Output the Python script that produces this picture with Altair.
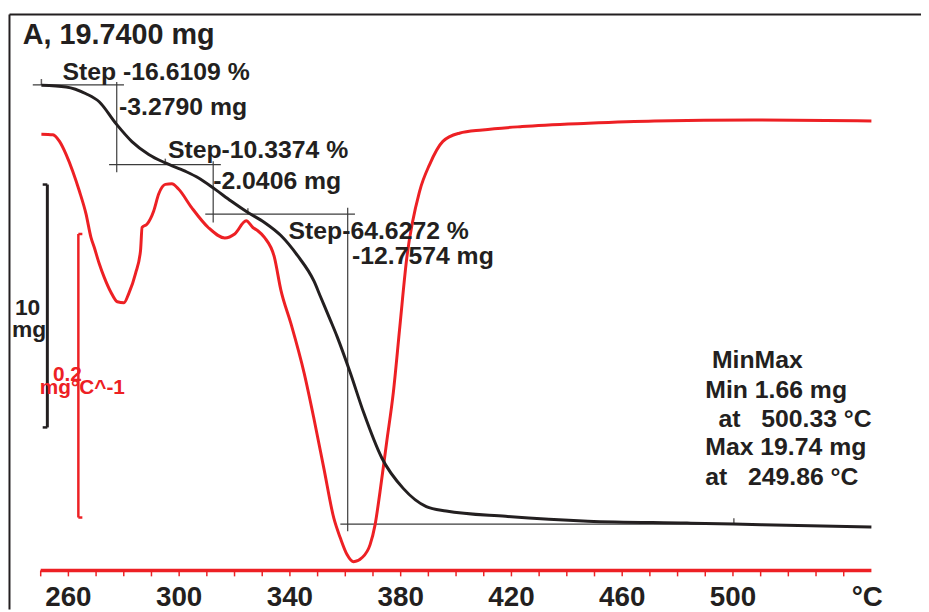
import altair as alt
import pandas as pd

# ---------------- data ----------------
tg_temp = [250.25, 259.20, 266.36, 271.12, 277.10, 282.94, 289.02, 295.00, 302.16, 306.88,
           312.90, 318.74, 324.82, 330.80, 336.74, 342.72, 348.70, 351.06, 354.64, 357.05,
           361.80, 366.60, 373.15, 380.92, 389.26, 396.42, 417.90, 447.61, 483.42, 500.25,
           519.22, 550.00]
tg_mass = [19.73, 19.66, 19.38, 19.05, 18.16, 17.41, 16.88, 16.53, 16.19, 15.92,
           15.45, 14.96, 14.49, 14.08, 13.54, 12.72, 11.66, 11.02, 10.05, 9.38,
           7.89, 6.26, 4.39, 3.13, 2.38, 2.20, 1.98, 1.78, 1.70, 1.66,
           1.61, 1.54]

dtg_temp = [250.25, 254.40, 256.80, 259.20, 261.56, 263.96, 266.36, 268.15, 269.33, 271.12,
            272.91, 275.31, 277.67, 280.07, 281.86, 284.26, 286.05, 286.62, 288.41, 290.81,
            292.60, 295.00, 297.36, 299.76, 304.52, 310.50, 316.48, 320.06, 324.21, 326.61,
            328.40, 330.80, 334.38, 336.74, 340.32, 345.12, 348.70, 352.28, 355.86, 358.22,
            360.62, 363.02, 366.00, 368.96, 370.75, 372.54, 374.94, 377.34, 379.70, 382.10,
            386.86, 390.44, 395.24, 401.18, 409.56, 423.88, 447.72, 471.60, 507.40, 550.00]
dtg_value = [-0.0120, -0.0124, -0.0171, -0.0264, -0.0381, -0.0521, -0.0682, -0.0848, -0.0918, -0.1032,
             -0.1128, -0.1233, -0.1302, -0.1309, -0.1241, -0.1101, -0.0941, -0.0778, -0.0754, -0.0661,
             -0.0542, -0.0474, -0.0470, -0.0507, -0.0638, -0.0778, -0.0852, -0.0824, -0.0731, -0.0778,
             -0.0801, -0.0848, -0.0987, -0.1220, -0.1453, -0.1804, -0.2129, -0.2479, -0.2829, -0.2969,
             -0.3085, -0.3136, -0.3108, -0.3015, -0.2876, -0.2642, -0.2292, -0.1943, -0.1477, -0.1010,
             -0.0521, -0.0334, -0.0171, -0.0113, -0.0090, -0.0066, -0.0043, -0.0027, -0.0020, -0.0027]

# step evaluation construction lines (temperature, mass)
hline_mass = [19.74, 16.46, 14.42, 1.66]
hline_t0 = [247.14, 274.70, 309.43, 358.22]
hline_t1 = [280.07, 315.05, 363.49, 500.00]
vline_temp = [277.46, 312.29, 360.87]
vline_m0 = [19.86, 16.60, 14.68]
vline_m1 = [16.15, 14.08, 1.36]
marker_temp = [250.25, 295.00, 324.82, 500.33]
marker_mass = [19.74, 16.46, 14.42, 1.66]

step_labels = ["Step -16.6109 %", "-3.2790 mg", "Step-10.3374 %", "-2.0406 mg",
               "Step-64.6272 %", "-12.7574 mg"]
step_label_t = [257.88, 278.28, 295.93, 312.29, 339.50, 362.41]
step_label_m = [19.93, 18.50, 16.73, 15.44, 13.40, 12.38]

NB = "\u00a0"
minmax_labels = ["MinMax", "Min 1.66 mg", "at" + NB * 3 + "500.33 °C", "Max 19.74 mg",
                 "at" + NB * 3 + "249.86 °C"]
minmax_t = [492.4, 490.0, 494.8, 490.0, 490.0]
minmax_m = [8.095, 6.87, 5.65, 4.49, 3.26]

title_text = "A, 19.7400 mg"
tick_temps = list(range(250, 550, 10))
label_temps = [260, 300, 340, 380, 420, 460, 500]
axis_start, axis_end = 250, 550

# scale bars
tg_bar_t, tg_bar_top, tg_bar_len = 252.40, 15.64, 10.0
dtg_bar_t, dtg_bar_top, dtg_bar_len = 263.60, -0.0824, 0.2

# ---------------- styling ----------------
RED = "#ed2024"
BLACK = "#231f20"
FONT = "Liberation Sans"
W, H = 921, 604
AXIS_Y = 564.7

xscale = alt.Scale(domain=[238.19, 567.91], nice=False, zero=False)
tgscale = alt.Scale(domain=[-1.852, 22.801], nice=False, zero=False)
dtgscale = alt.Scale(domain=[-0.34720, 0.07517], nice=False, zero=False)


def X(field):
    return alt.X(field, type="quantitative", scale=xscale, axis=None)


def YT(field):
    return alt.Y(field, type="quantitative", scale=tgscale, axis=None)


def YD(field):
    return alt.Y(field, type="quantitative", scale=dtgscale, axis=None)


tg_df = pd.DataFrame({"T": tg_temp, "m": tg_mass})
dtg_df = pd.DataFrame({"T": dtg_temp, "d": dtg_value})
hl_df = pd.DataFrame({"m": hline_mass, "t0": hline_t0, "t1": hline_t1})
vl_df = pd.DataFrame({"T": vline_temp, "m0": vline_m0, "m1": vline_m1})
mk_df = pd.DataFrame({"T": marker_temp, "m": marker_mass})
st_df = pd.DataFrame({"T": step_label_t, "m": step_label_m, "label": step_labels})
mm_df = pd.DataFrame({"T": minmax_t, "m": minmax_m, "label": minmax_labels})
ax_df = pd.DataFrame({"t0": [axis_start], "t1": [axis_end]})
tick_df = pd.DataFrame({"T": tick_temps})
lab_df = pd.DataFrame({"T": label_temps, "label": [str(v) for v in label_temps]})

frame_left = alt.Chart(ax_df).mark_rule(color=BLACK, strokeWidth=2).encode(
    x=alt.value(1.5), y=alt.value(4), y2=alt.value(H))
frame_top = alt.Chart(ax_df).mark_rule(color=BLACK, strokeWidth=2).encode(
    x=alt.value(1.5), x2=alt.value(W), y=alt.value(4))

# temperature axis drawn from the tick data through the x scale
axis_line = alt.Chart(ax_df).mark_rule(color=RED, strokeWidth=3.5).encode(
    x=X("t0"), x2="t1", y=alt.value(AXIS_Y))
axis_ticks = alt.Chart(tick_df).mark_rule(color=RED, strokeWidth=1.5).encode(
    x=X("T"), y=alt.value(AXIS_Y), y2=alt.value(AXIS_Y + 6))
axis_labels = alt.Chart(lab_df).mark_text(align="center", baseline="alphabetic", font=FONT,
                                          fontSize=28, fontWeight="bold", color=BLACK).encode(
    x=X("T"), y=alt.value(AXIS_Y + 35.5), text="label")

hlines = alt.Chart(hl_df).mark_rule(color="#3c3c3c", strokeWidth=1.2).encode(
    x=X("t0"), x2="t1", y=YT("m"))
vlines = alt.Chart(vl_df).mark_rule(color="#3c3c3c", strokeWidth=1.2).encode(
    x=X("T"), y=YT("m0"), y2="m1")
markers = alt.Chart(mk_df).mark_tick(color=BLACK, orient="vertical", size=6, thickness=1.5,
                                     yOffset=-3).encode(x=X("T"), y=YT("m"))

dtg_line = alt.Chart(dtg_df).mark_line(color=RED, strokeWidth=3, interpolate="monotone").encode(
    x=X("T"), y=YD("d"))
tg_line = alt.Chart(tg_df).mark_line(color=BLACK, strokeWidth=3, interpolate="monotone").encode(
    x=X("T"), y=YT("m"))

step_text = alt.Chart(st_df).mark_text(align="left", baseline="alphabetic", font=FONT,
                                       fontSize=25, fontWeight="bold", color=BLACK).encode(
    x=X("T"), y=YT("m"), text="label")
mm_text = alt.Chart(mm_df).mark_text(align="left", baseline="alphabetic", font=FONT,
                                     fontSize=25, fontWeight="bold", color=BLACK).encode(
    x=X("T"), y=YT("m"), text="label")
title = alt.Chart(pd.DataFrame({"T": [243.56], "m": [21.41], "label": [title_text]})).mark_text(
    align="left", baseline="alphabetic", font=FONT, fontSize=29, fontWeight="bold", color=BLACK).encode(
    x=X("T"), y=YT("m"), text="label")
deg_text = alt.Chart(pd.DataFrame({"T": [548.5], "label": ["°C"]})).mark_text(
    align="center", baseline="alphabetic", font=FONT, fontSize=28, fontWeight="bold", color=BLACK).encode(
    x=X("T"), y=alt.value(AXIS_Y + 35.5), text="label")

# TG scale bar (10 mg)
tgbar_df = pd.DataFrame({"T": [tg_bar_t], "top": [tg_bar_top], "bot": [tg_bar_top - tg_bar_len]})
tgserif_df = pd.DataFrame({"t0": [250.72, 250.72], "t1": [tg_bar_t, tg_bar_t],
                           "m": [tg_bar_top, tg_bar_top - tg_bar_len]})
tg_bar = alt.Chart(tgbar_df).mark_rule(color=BLACK, strokeWidth=3).encode(
    x=X("T"), y=YT("top"), y2="bot")
tg_serif = alt.Chart(tgserif_df).mark_rule(color=BLACK, strokeWidth=2.5).encode(
    x=X("t0"), x2="t1", y=YT("m"))
tg_bar_text = alt.Chart(pd.DataFrame({"T": [240.69, 239.62], "m": [10.27, 9.38],
                                      "label": ["10", "mg"]})).mark_text(
    align="left", baseline="alphabetic", font=FONT, fontSize=23, fontWeight="bold", color=BLACK).encode(
    x=X("T"), y=YT("m"), text="label")

# DTG scale bar (0.2 mg/°C)
dbar_df = pd.DataFrame({"T": [dtg_bar_t], "top": [dtg_bar_top], "bot": [dtg_bar_top - dtg_bar_len]})
dserif_df = pd.DataFrame({"t0": [dtg_bar_t, dtg_bar_t], "t1": [265.04, 265.04],
                          "d": [dtg_bar_top, dtg_bar_top - dtg_bar_len]})
d_bar = alt.Chart(dbar_df).mark_rule(color=RED, strokeWidth=2.5).encode(
    x=X("T"), y=YD("top"), y2="bot")
d_serif = alt.Chart(dserif_df).mark_rule(color=RED, strokeWidth=2.5).encode(
    x=X("t0"), x2="t1", y=YD("d"))
d_bar_text = alt.Chart(pd.DataFrame({"T": [254.40, 249.64], "d": [-0.1862, -0.1955],
                                     "label": ["0.2", "mg°C^-1"]})).mark_text(
    align="left", baseline="alphabetic", font=FONT, fontSize=21, fontWeight="bold", color=RED).encode(
    x=X("T"), y=YD("d"), text="label")

chart = alt.layer(
    frame_left, frame_top, axis_line, axis_ticks, axis_labels, hlines, vlines, d_bar, d_serif,
    tg_bar, tg_serif, dtg_line, tg_line, markers, step_text, mm_text, title, deg_text,
    tg_bar_text, d_bar_text
).resolve_scale(y="independent").properties(
    width=W, height=H, padding=0, autosize=alt.AutoSizeParams(type="none")
).configure_view(stroke=None)

chart.save("out.html", embed_options={"renderer": "svg", "actions": False})
